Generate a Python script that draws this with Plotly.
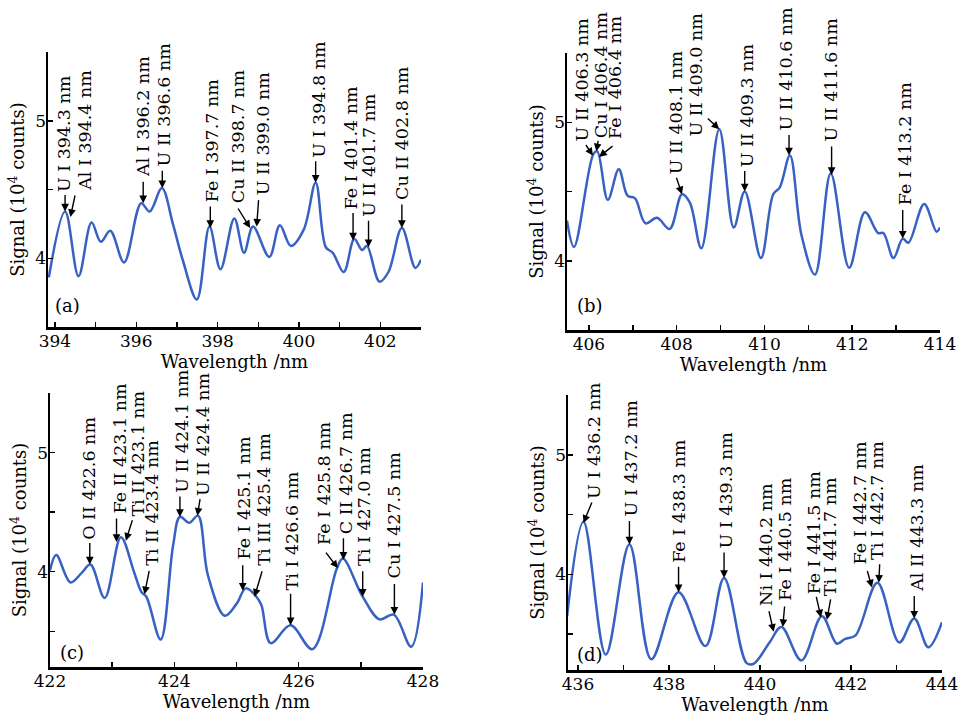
import plotly.graph_objects as go

# ---------------- data ----------------
# panel (a)
a_wl = [393.85, 394.25, 394.58, 394.90, 395.13, 395.36, 395.70, 396.12, 396.33, 396.63,
        396.90, 397.15, 397.49, 397.80, 398.07, 398.41, 398.65, 398.87, 399.27, 399.53,
        399.80, 400.12, 400.41, 400.66, 400.83, 401.10, 401.36, 401.55, 401.67, 401.98,
        402.20, 402.53, 402.86, 403.00]
a_sig = [3.86, 4.34, 3.87, 4.26, 4.12, 4.20, 3.97, 4.40, 4.34, 4.51,
         4.25, 3.98, 3.70, 4.23, 3.92, 4.29, 4.04, 4.23, 4.01, 4.24,
         4.09, 4.21, 4.55, 4.08, 4.04, 3.90, 4.14, 4.06, 4.09, 3.83,
         3.90, 4.22, 3.93, 3.99]
a_labels = ["U I 394.3 nm", "Al I 394.4 nm", "Al I 396.2 nm", "U II 396.6 nm", "Fe I 397.7 nm",
            "Cu II 398.7 nm", "U II 399.0 nm", "U I 394.8 nm", "Fe I 401.4 nm", "U II 401.7 nm",
            "Cu II 402.8 nm"]
a_line_x = [394.25, 394.38, 396.17, 396.64, 397.82, 398.80, 398.96, 400.41, 401.33, 401.71, 402.53]
a_line_y = [4.34, 4.30, 4.40, 4.51, 4.22, 4.22, 4.23, 4.55, 4.13, 4.08, 4.22]

# panel (b)
b_wl = [405.50, 405.66, 406.10, 406.19, 406.43, 406.68, 406.88, 407.05, 407.29, 407.55,
        407.84, 408.12, 408.30, 408.56, 408.97, 409.30, 409.55, 409.92, 410.20, 410.35,
        410.58, 410.84, 411.15, 411.51, 411.93, 412.29, 412.59, 412.71, 412.94, 413.15,
        413.28, 413.64, 413.92, 414.00]
b_sig = [4.29, 4.10, 4.77, 4.79, 4.44, 4.66, 4.47, 4.45, 4.27, 4.31,
         4.23, 4.48, 4.42, 4.09, 4.95, 4.24, 4.50, 4.02, 4.48, 4.53,
         4.76, 4.19, 3.90, 4.63, 3.95, 4.35, 4.20, 4.20, 4.02, 4.16,
         4.13, 4.41, 4.21, 4.24]
b_labels = ["U II 406.3 nm", "Cu I 406.4 nm", "Fe I 406.4 nm", "U II 408.1 nm", "U II 409.0 nm",
            "U II 409.3 nm", "U II 410.6 nm", "U II 411.6 nm", "Fe I 413.2 nm"]
b_line_x = [406.09, 406.17, 406.23, 408.12, 408.97, 409.55, 410.56, 411.53, 413.15]
b_line_y = [4.76, 4.79, 4.75, 4.48, 4.95, 4.50, 4.76, 4.62, 4.16]

# panel (c)
c_wl = [422.00, 422.10, 422.33, 422.51, 422.65, 422.88, 423.14, 423.35, 423.47, 423.55,
        423.78, 423.98, 424.09, 424.24, 424.38, 424.54, 424.81, 425.00, 425.15, 425.32,
        425.40, 425.55, 425.87, 426.22, 426.61, 426.71, 427.03, 427.30, 427.53, 427.81,
        428.00]
c_sig = [4.01, 4.14, 3.91, 3.99, 4.06, 3.78, 4.29, 4.00, 3.83, 3.79,
         3.43, 4.22, 4.46, 4.41, 4.47, 3.97, 3.63, 3.73, 3.86, 3.79,
         3.72, 3.40, 3.55, 3.35, 4.02, 4.11, 3.79, 3.60, 3.64, 3.37,
         3.91]
c_labels = ["O II 422.6 nm", "Fe II 423.1 nm", "Ti II 423.1 nm", "Ti II 423.4 nm", "U II 424.1 nm",
            "U II 424.4 nm", "Fe I 425.1 nm", "Ti III 425.4 nm", "Ti I 426.6 nm", "Fe I 425.8 nm",
            "C II 426.7 nm", "Ti I 427.0 nm", "Cu I 427.5 nm"]
c_line_x = [422.64, 423.07, 423.22, 423.52, 424.09, 424.37, 425.10, 425.29, 425.87, 426.63,
            426.72, 427.03, 427.54]
c_line_y = [4.06, 4.25, 4.26, 3.81, 4.46, 4.47, 3.84, 3.79, 3.55, 4.03,
            4.10, 3.79, 3.64]

# panel (d)
d_wl = [435.76, 436.12, 436.61, 437.13, 437.61, 438.21, 438.80, 439.21, 439.70, 439.85,
        440.21, 440.47, 440.91, 441.36, 441.69, 441.87, 442.10, 442.58, 443.06, 443.39,
        443.70, 444.00]
d_sig = [3.65, 4.44, 3.33, 4.25, 3.29, 3.85, 3.40, 3.97, 3.26, 3.25,
         3.43, 3.56, 3.28, 3.65, 3.42, 3.46, 3.49, 3.93, 3.43, 3.63,
         3.39, 3.60]
d_labels = ["U I 436.2 nm", "U I 437.2 nm", "Fe I 438.3 nm", "U I 439.3 nm", "Ni I 440.2 nm",
            "Fe I 440.5 nm", "Fe I 441.5 nm", "Ti I 441.7 nm", "Fe I 442.7 nm", "Ti I 442.7 nm",
            "Al II 443.3 nm"]
d_line_x = [436.12, 437.13, 438.21, 439.21, 440.30, 440.50, 441.34, 441.47, 442.46, 442.61, 443.39]
d_line_y = [4.43, 4.25, 3.85, 3.97, 3.52, 3.56, 3.64, 3.62, 3.89, 3.93, 3.63]

panel_tags = ["(a)", "(b)", "(c)", "(d)"]
x_title = "Wavelength /nm"
y_title = "Signal (10<sup>4</sup> counts)"

# ---------------- layout / style ----------------
# arrow tail offset (ax, ay) and text bottom-centre offset (tx, ty up) in pixels
a_off = [(0, -18, -1, 18), (5, -23, 14, 25), (0, -23, 0, 25), (0, -19, 2, 21), (0, -23, 2, 25),
         (-13, -21, -12, 24), (2, -28, 6, 30), (0, -23, 3, 24), (0, -29, -2, 30), (0, -28, 1, 29),
         (0, -25, 0, 27)]
b_off = [(-8, -12, -10, 13), (2, -12, 4, 12), (15, -12, 16, 17), (-6, -18, -6, 19), (-13, -12, -23, -8),
         (0, -22, 2, 23), (0, -22, -3, 24), (0, -30, -1, 32), (0, -30, 2, 32)]
c_off = [(0, -23, -1, 24), (0, -25, 3, 27), (7, -22, 12, 23), (5, -25, 8, 28), (0, -22, 2, 23),
         (3, -18, 5, 19), (0, -27, 1, 30), (8, -27, 10, 30), (0, -33, 1, 34), (-13, -17, -14, 22),
         (0, -23, 2, 25), (0, -27, 2, 30), (0, -32, 0, 35)]
d_off = [(9, -22, 11, 23), (0, -25, 2, 27), (0, -27, 1, 28), (0, -27, 2, 28), (-5, -22, -7, 25),
         (2, -22, 2, 25), (-5, -22, -7, 22), (4, -22, 3, 23), (-5, -18, -12, 22), (1, -20, -2, 22),
         (0, -24, 2, 26)]

FONT = "DejaVu Serif"
LINE_COLOR = "#3861c4"
W, H = 961, 718


def xdom(left, right):
    return [left / W, right / W]


def ydom(bottom, top):
    return [1 - bottom / H, 1 - top / H]


panels = [
    dict(wl=a_wl, sig=a_sig, labels=a_labels, lx=a_line_x, ly=a_line_y, off=a_off,
         xr=[393.83, 403.0], yr=[3.5, 5.5], tick0=394,
         xdom=xdom(48, 421), ydom=ydom(327, 52)),
    dict(wl=b_wl, sig=b_sig, labels=b_labels, lx=b_line_x, ly=b_line_y, off=b_off,
         xr=[405.5, 414.0], yr=[3.5, 5.5], tick0=406,
         xdom=xdom(567, 940), ydom=ydom(330, 53)),
    dict(wl=c_wl, sig=c_sig, labels=c_labels, lx=c_line_x, ly=c_line_y, off=c_off,
         xr=[422.0, 428.0], yr=[3.2, 5.5], tick0=422,
         xdom=xdom(50, 423), ydom=ydom(667, 393)),
    dict(wl=d_wl, sig=d_sig, labels=d_labels, lx=d_line_x, ly=d_line_y, off=d_off,
         xr=[435.78, 444.0], yr=[3.2, 5.5], tick0=436,
         xdom=xdom(568, 942), ydom=ydom(670, 395)),
]
tag_pos = [(0.013, 0.08), (0.021, 0.088), (0.021, 0.052), (0.019, 0.058)]

fig = go.Figure()
annotations = []
layout = dict(
    width=W, height=H, margin=dict(l=0, r=0, t=0, b=0, autoexpand=False),
    plot_bgcolor="white", paper_bgcolor="white", showlegend=False,
    font=dict(family=FONT, size=17, color="black"),
)

for i, p in enumerate(panels):
    n = "" if i == 0 else str(i + 1)
    xa, ya = "x" + n, "y" + n
    fig.add_trace(go.Scatter(x=p["wl"], y=p["sig"], mode="lines", xaxis=xa, yaxis=ya,
                             line=dict(color=LINE_COLOR, width=2.5, shape="spline", smoothing=1.0),
                             hoverinfo="skip"))
    axis_common = dict(showline=True, linecolor="black", linewidth=2.5, ticks="inside",
                       ticklen=5, tickwidth=1.5, tickcolor="black", showgrid=False,
                       zeroline=False, mirror=False, automargin=False,
                       tickfont=dict(family=FONT, size=17, color="black"))
    layout["xaxis" + n] = dict(axis_common, domain=p["xdom"], range=p["xr"], anchor=ya,
                               tick0=p["tick0"], dtick=2, ticklabelstandoff=-3,
                               minor=dict(ticks="inside", dtick=1, ticklen=5, tickwidth=1.5,
                                          tickcolor="black", showgrid=False),
                               title=dict(text=x_title, font=dict(family=FONT, size=18),
                                          standoff=0))
    layout["yaxis" + n] = dict(axis_common, domain=p["ydom"], range=p["yr"], anchor=xa,
                               tick0=0, dtick=1, ticklabelstandoff=-4,
                               minor=dict(ticks="inside", dtick=0.5, ticklen=5, tickwidth=1.5,
                                          tickcolor="black", showgrid=False),
                               title=dict(text=y_title, font=dict(family=FONT, size=18),
                                          standoff=6))
    for lab, hx, hy, (ax, ay, tx, ty) in zip(p["labels"], p["lx"], p["ly"], p["off"]):
        annotations.append(dict(x=hx, y=hy, xref=xa, yref=ya, text="", showarrow=True,
                                ax=ax, ay=ay, arrowhead=2, arrowsize=1.1, arrowwidth=1.4,
                                arrowcolor="black", standoff=0, startstandoff=0))
        annotations.append(dict(x=hx, y=hy, xref=xa, yref=ya, text=lab, showarrow=False,
                                textangle=-90, xanchor="center", yanchor="bottom",
                                xshift=tx, yshift=ty, borderpad=0,
                                font=dict(family=FONT, size=17.5, color="black")))
    tx_, ty_ = tag_pos[i]
    annotations.append(dict(x=tx_, y=ty_, xref=xa + " domain", yref=ya + " domain",
                            text=panel_tags[i], showarrow=False, xanchor="left",
                            yanchor="middle", font=dict(family=FONT, size=18, color="black")))

layout["annotations"] = annotations
fig.update_layout(**layout)
fig.write_html(
    "out.html",
    config={"displayModeBar": False, "staticPlot": True},
    post_script="document.documentElement.style.margin='0px';"
                "document.body.style.margin='0px';"
                "document.body.style.overflow='hidden';",
)
